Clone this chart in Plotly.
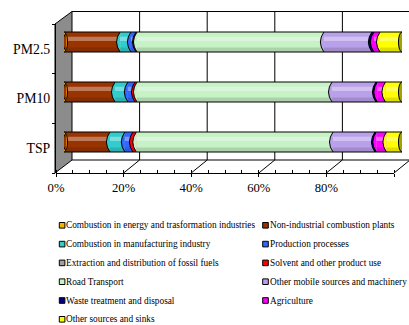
import numpy as np
import plotly.graph_objects as go

# ---- data -------------------------------------------------------------
pollutants = ["TSP", "PM10", "PM2.5"]
sectors = [
    "Combustion in energy and trasformation industries",
    "Non-industrial combustion plants",
    "Combustion in manufacturing industry",
    "Production processes",
    "Extraction and distribution of fossil fuels",
    "Solvent and other product use",
    "Road Transport",
    "Other mobile sources and machinery",
    "Waste treatment and disposal",
    "Agriculture",
    "Other sources and sinks",
]
# share of each sector (%), in the order TSP, PM10, PM2.5
shares = {
    "Combustion in energy and trasformation industries": [0.7, 0.7, 0.7],
    "Non-industrial combustion plants": [12.9, 14.4, 15.9],
    "Combustion in manufacturing industry": [4.4, 3.8, 3.2],
    "Production processes": [2.4, 2.1, 1.5],
    "Extraction and distribution of fossil fuels": [0.0, 0.0, 0.0],
    "Solvent and other product use": [1.0, 0.6, 0.3],
    "Road Transport": [58.2, 57.7, 55.3],
    "Other mobile sources and machinery": [12.4, 13.0, 14.2],
    "Waste treatment and disposal": [0.4, 0.4, 0.6],
    "Agriculture": [3.0, 2.4, 1.8],
    "Other sources and sinks": [4.6, 4.9, 6.5],
}
colors = [
    "#F2B400", "#993300", "#33CCCC", "#3366FF", "#A0A0A0", "#FF0000",
    "#C6F2C6", "#B9A0EA", "#000080", "#FF00FF", "#FFFF00",
]
x_ticks = [0, 20, 40, 60, 80, 100]

# ---- geometry helpers (pixel -> paper) --------------------------------
W, H = 409, 325
FONT = "Liberation Serif, Times New Roman, serif"


def px(x):
    return x / W


def py(y):
    return 1 - y / H


vals = np.array([shares[s] for s in sectors])          # sectors x pollutants
starts = np.vstack([np.zeros(len(pollutants)), np.cumsum(vals, axis=0)[:-1]])
totals = vals.sum(axis=0)
ypos = np.arange(len(pollutants))
HALF = 0.2          # half bar thickness (category units)
CAP = 1.05          # cylinder cap half-width (x units)

fig = go.Figure()

# stacked cylinder segments
for i, s in enumerate(sectors):
    fig.add_trace(go.Bar(
        y=ypos, x=vals[i], base=starts[i], orientation="h",
        name=s, width=2 * HALF, marker=dict(color=colors[i], line=dict(width=0)),
        showlegend=False,
    ))

# cylinder shading: light band above the axis, dark band at the bottom
fig.add_trace(go.Bar(
    y=ypos, x=totals, base=0, orientation="h", width=0.085, offset=0.02,
    marker=dict(color="rgba(255,255,255,0.35)", line=dict(width=0)),
    showlegend=False, hoverinfo="skip",
))
fig.add_trace(go.Bar(
    y=ypos, x=totals, base=0, orientation="h", width=0.09, offset=-HALF,
    marker=dict(color="rgba(0,0,0,0.13)", line=dict(width=0)),
    showlegend=False, hoverinfo="skip",
))
# cylinder outline
fig.add_trace(go.Bar(
    y=ypos, x=totals, base=0, orientation="h", width=2 * HALF,
    marker=dict(color="rgba(0,0,0,0)", line=dict(color="black", width=1)),
    showlegend=False, hoverinfo="skip",
))

# empty trace so the front (labelled) axes get drawn
fig.add_trace(go.Scatter(x=[None], y=[None], xaxis="x2", yaxis="y2",
                         showlegend=False, hoverinfo="skip"))

shapes = []

# ---- 3D frame: side wall, back wall grid, floor ----------------------
FX0, FX1, FY = 56, 394, 173       # front floor edge
BX0, BY_TOP, BY = 72, 11.5, 160   # back wall
scale = (FX1 - FX0) / 100.0
line_k = dict(color="black", width=1)

shapes.append(dict(
    type="path", xref="paper", yref="paper", layer="below",
    path=f"M {px(55)},{py(24)} L {px(BX0)},{py(BY_TOP)} L {px(BX0)},{py(BY)} "
         f"L {px(55)},{py(FY)} Z",
    fillcolor="#8C8C8C", line=line_k,
))
shapes.append(dict(type="line", xref="paper", yref="paper", layer="below",
                   x0=px(BX0), y0=py(BY_TOP), x1=1, y1=py(BY_TOP), line=line_k))
shapes.append(dict(type="line", xref="paper", yref="paper", layer="below",
                   x0=px(BX0), y0=py(BY), x1=1, y1=py(BY), line=line_k))
for t in x_ticks:
    bx = BX0 + scale * t
    fx = FX0 + scale * t
    if 0 < t and bx < W:
        shapes.append(dict(type="line", xref="paper", yref="paper", layer="below",
                           x0=px(bx), y0=py(BY_TOP), x1=px(bx), y1=py(BY),
                           line=line_k))
    if t > 0:
        shapes.append(dict(type="line", xref="paper", yref="paper", layer="below",
                           x0=px(fx), y0=py(FY), x1=px(min(bx, W)),
                           y1=py(FY - (min(bx, W) - fx) * (FY - BY) / (BX0 - FX0)),
                           line=line_k))

# ---- cylinder caps and segment joints ---------------------------------
for j, yc in enumerate(ypos):
    # left end face
    shapes.append(dict(type="circle", xref="x", yref="y",
                       x0=-CAP, x1=CAP, y0=yc - HALF, y1=yc + HALF,
                       fillcolor=colors[0], line=line_k))
    # curved joint where each segment begins
    for i in range(1, len(sectors)):
        if vals[i, j] <= 0:
            continue
        c = starts[i, j]
        arc = (f"M {c},{yc + HALF} Q {c - 2 * CAP},{yc} {c},{yc - HALF}")
        shapes.append(dict(type="path", xref="x", yref="y",
                           path=arc + " Z", fillcolor=colors[i],
                           line=dict(width=0)))
        shapes.append(dict(type="path", xref="x", yref="y", path=arc,
                           fillcolor="rgba(0,0,0,0)",
                           line=dict(color="black", width=1)))
    # right end face
    shapes.append(dict(type="circle", xref="x", yref="y",
                       x0=totals[j] - CAP, x1=totals[j] + CAP,
                       y0=yc - HALF, y1=yc + HALF,
                       fillcolor="#A3A300", line=line_k))

# ---- legend (two columns) --------------------------------------------
annotations = []
for i, s in enumerate(sectors):
    row, col = divmod(i, 2)
    yc = 225.3 + 18.8 * row
    x0 = 59.3 if col == 0 else 262.7
    shapes.append(dict(type="rect", xref="paper", yref="paper",
                       x0=px(x0), x1=px(x0 + 5.6), y0=py(yc + 2.8), y1=py(yc - 2.8),
                       fillcolor=colors[i], line=dict(color="black", width=1)))
    annotations.append(dict(
        text=s, xref="paper", yref="paper", x=px(x0 + 5.0), y=py(yc),
        xanchor="left", yanchor="middle", showarrow=False,
        font=dict(family=FONT, size=9.3, color="black"),
    ))

fig.update_layout(
    width=W, height=H,
    margin=dict(l=0, r=0, t=0, b=0, pad=0, autoexpand=False),
    paper_bgcolor="white", plot_bgcolor="rgba(0,0,0,0)",
    barmode="overlay", showlegend=False,
    shapes=shapes, annotations=annotations,
    xaxis=dict(domain=[px(64), px(402)], range=[0, 100], visible=False,
               fixedrange=True, automargin=False),
    yaxis=dict(domain=[py(167), py(17)], range=[-0.5, 2.5], visible=False,
               fixedrange=True, automargin=False),
    xaxis2=dict(
        domain=[px(FX0), px(FX1)], range=[0, 100], anchor="free",
        position=py(FY), automargin=False, fixedrange=True,
        tickmode="array", tickvals=x_ticks,
        ticktext=[f"{t}%" for t in x_ticks],
        ticks="outside", ticklen=3, tickcolor="black",
        minor=dict(dtick=5, ticks="inside", ticklen=3, tickcolor="black"),
        showline=True, linecolor="black", linewidth=1,
        showgrid=False, zeroline=False,
        tickfont=dict(family=FONT, size=12.7, color="black"),
    ),
    yaxis2=dict(
        domain=[py(FY), py(24)], range=[-0.5, 2.5], anchor="free",
        position=px(55), automargin=False, fixedrange=True,
        tickmode="array", tickvals=list(ypos), ticktext=pollutants, ticks="",
        minor=dict(tickvals=[-0.5, 0.5, 1.5, 2.5], ticks="outside",
                   ticklen=3, tickcolor="black"),
        showline=True, linecolor="black", linewidth=1,
        showgrid=False, zeroline=False, ticklabelstandoff=2,
        tickfont=dict(family=FONT, size=13.8, color="black"),
    ),
)

fig.write_html("out.html")
